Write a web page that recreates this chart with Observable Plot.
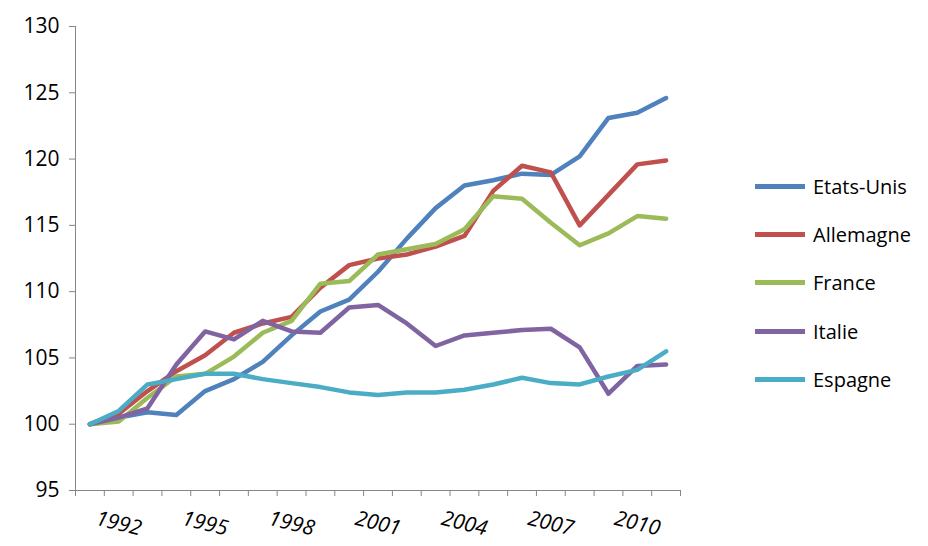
<!DOCTYPE html>
<html><head><meta charset="utf-8">
<script src="https://cdn.jsdelivr.net/npm/d3@7"></script>
<script src="https://cdn.jsdelivr.net/npm/@observablehq/plot@0.6"></script>
<style>
body{margin:0;background:#fff;font-family:"Open Sans",sans-serif}
#wrap{position:relative;width:928px;height:546px}
#legend{position:absolute;left:755px;top:162px;font-size:20px;color:#000}
.it{display:flex;align-items:center;height:48.3px}
.sw{width:50px;height:5px;margin-right:8px}
#chart svg text{font-size:21px}
</style></head><body>
<div id="wrap"><div id="chart"></div><div id="legend"></div></div>
<script>
const years = d3.range(1991, 2012)
const series = ["Etats-Unis", "Allemagne", "France", "Italie", "Espagne"]
const colors = ["#4F81BD", "#C0504D", "#9BBB59", "#8064A2", "#4BACC6"]
const etatsUnis = [100,100.5,100.9,100.7,102.5,103.4,104.7,106.7,108.5,109.4,111.5,114,116.3,118,118.4,118.9,118.8,120.2,123.1,123.5,124.6]
const allemagne = [100,100.8,102.5,104,105.2,106.9,107.6,108.1,110.3,112,112.5,112.8,113.4,114.2,117.6,119.5,119,115,117.3,119.6,119.9]
const france = [100,100.2,102,103.6,103.8,105.1,106.9,107.8,110.6,110.8,112.8,113.2,113.6,114.7,117.2,117,115.2,113.5,114.4,115.7,115.5]
const italie = [100,100.5,101.2,104.5,107,106.4,107.8,107,106.9,108.8,109,107.6,105.9,106.7,106.9,107.1,107.2,105.8,102.3,104.4,104.5]
const espagne = [100,101,103,103.4,103.8,103.8,103.4,103.1,102.8,102.4,102.2,102.4,102.4,102.6,103,103.5,103.1,103,103.6,104.1,105.5]
const yTicks = [95,100,105,110,115,120,125,130]
const xLabels = [1992,1995,1998,2001,2004,2007,2010]

const all = [etatsUnis, allemagne, france, italie, espagne]
const data = series.flatMap((s, i) => years.map((y, j) => ({series: s, year: y, value: all[i][j]})))

const chart = Plot.plot({
  width: 928, height: 546,
  marginLeft: 75, marginRight: 248, marginTop: 26, marginBottom: 56,
  style: {fontFamily: "Open Sans, sans-serif", color: "#000"},
  x: {domain: [1990.5, 2011.5]},
  y: {domain: [95, 130]},
  color: {domain: series, range: colors},
  marks: [
    Plot.axisY({ticks: yTicks, tickSize: 6, tickPadding: 10, label: null, stroke: "#868686", fill: "#000"}),
    Plot.axisX({ticks: d3.range(1990.5, 2012.5, 1), tickSize: 6, tickFormat: () => "", label: null, stroke: "#868686"}),
    Plot.ruleX([1990.5], {stroke: "#868686"}),
    Plot.ruleY([95], {stroke: "#868686"}),
    Plot.text(xLabels, {x: d => d, y: 95, text: d => String(d), dy: 33, rotate: 14, fontStyle: "italic"}),
    Plot.line(data, {x: "year", y: "value", z: "series", stroke: "series", strokeWidth: 4.5, strokeLinejoin: "round"})
  ]
})
d3.select('#chart').append(() => chart)

const leg = d3.select('#legend')
series.forEach((s, i) => {
  const it = leg.append('div').attr('class', 'it')
  it.append('div').attr('class', 'sw').style('background', colors[i])
  it.append('span').text(s)
})
</script>
</body></html>
